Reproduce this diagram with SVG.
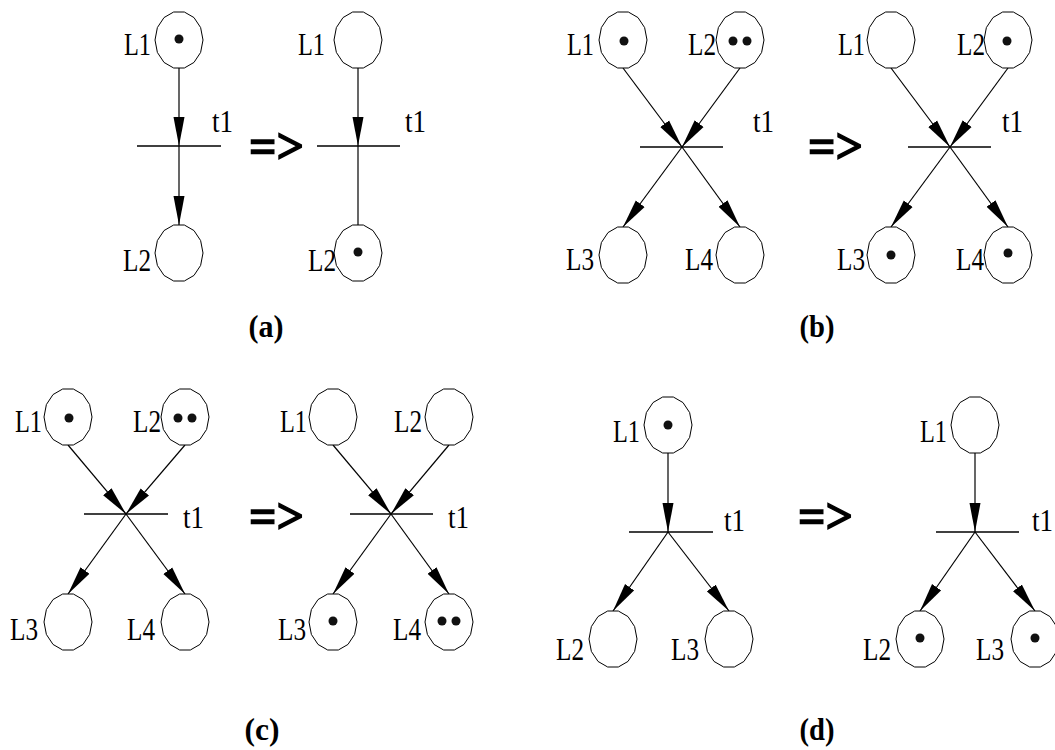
<svg xmlns="http://www.w3.org/2000/svg" xmlns:xlink="http://www.w3.org/1999/xlink" width="1055" height="750" viewBox="0 0 1055 750">
<style>
.place{fill:#fff;stroke:#000;stroke-width:1}
.arc{fill:none;stroke:#000;stroke-width:1.2}
.arr{marker-end:url(#ah)}
.bar{stroke:#000;stroke-width:1.3}
.tok{fill:#111}
.lbl{font-family:"Liberation Serif","Times New Roman",serif;font-size:32px;fill:#000}
.end{text-anchor:end}
.cap{font-family:"Liberation Serif","Times New Roman",serif;font-size:32px;font-weight:bold;text-anchor:middle;fill:#000}
.imp{font-family:"Liberation Serif","Times New Roman",serif;font-size:50px;font-weight:bold;fill:#000;stroke:#000;stroke-width:1.4}
</style>
<defs>
<polygon id="pl" class="place" points="5.34,-28 14.96,-22.45 21.62,-12.46 24,0 21.62,12.46 14.96,22.45 5.34,28 -5.34,28 -14.96,22.45 -21.62,12.46 -24,0 -21.62,-12.46 -14.96,-22.45 -5.34,-28"/>
<marker id="ah" markerUnits="userSpaceOnUse" markerWidth="30" markerHeight="12" viewBox="0 0 30 12" refX="29" refY="6" orient="auto">
<path d="M0,0.5 L29,6 L0,11.5 Z" fill="#000"/>
</marker>
</defs>
<rect width="1055" height="750" fill="#fff"/>

<g id="connectors">
<!-- (a) -->
<path class="arc arr" d="M179,68 L179,146"/>
<path class="arc arr" d="M179,146 L179,225"/>
<path class="arc arr" d="M358,68 L358,146"/>
<path class="arc" d="M358,146 L358,225"/>
<!-- (b) -->
<path class="arc arr" d="M623,68 L682,147"/>
<path class="arc arr" d="M740,68 L682,147"/>
<path class="arc arr" d="M682,147 L623,227"/>
<path class="arc arr" d="M682,147 L740,227"/>
<path class="arc arr" d="M891,68 L950,147"/>
<path class="arc arr" d="M1008,68 L950,147"/>
<path class="arc arr" d="M950,147 L891,227"/>
<path class="arc arr" d="M950,147 L1008,227"/>
<!-- (c) -->
<path class="arc arr" d="M68,445 L126,514"/>
<path class="arc arr" d="M185,445 L126,514"/>
<path class="arc arr" d="M126,514 L68,594"/>
<path class="arc arr" d="M126,514 L185,594"/>
<path class="arc arr" d="M333,445 L391,514"/>
<path class="arc arr" d="M449,445 L391,514"/>
<path class="arc arr" d="M391,514 L333,594"/>
<path class="arc arr" d="M391,514 L449,594"/>
<!-- (d) -->
<path class="arc arr" d="M668,453 L668,532"/>
<path class="arc arr" d="M668,532 L613,611"/>
<path class="arc arr" d="M668,532 L729,611"/>
<path class="arc arr" d="M975,453 L975,532"/>
<path class="arc arr" d="M975,532 L920,611"/>
<path class="arc arr" d="M975,532 L1035,611"/>
</g>

<!-- Panel (a) -->
<g id="a-before-L1"><use xlink:href="#pl" x="179" y="40"/><circle class="tok" cx="179" cy="39" r="4.5"/><text class="lbl end" x="151" y="55" textLength="27" lengthAdjust="spacingAndGlyphs">L1</text></g>
<g id="a-before-t1"><line class="bar" x1="137" y1="146" x2="221" y2="146"/><text class="lbl" x="212" y="132" textLength="21" lengthAdjust="spacingAndGlyphs">t1</text></g>
<g id="a-before-L2"><use xlink:href="#pl" x="179" y="253"/><text class="lbl end" x="151" y="271" textLength="28" lengthAdjust="spacingAndGlyphs">L2</text></g>
<g id="a-implies"><text class="imp" x="249" y="163" textLength="55" lengthAdjust="spacingAndGlyphs">=&gt;</text></g>
<g id="a-after-L1"><use xlink:href="#pl" x="358" y="40"/><text class="lbl end" x="325" y="55" textLength="27" lengthAdjust="spacingAndGlyphs">L1</text></g>
<g id="a-after-t1"><line class="bar" x1="317" y1="146" x2="400" y2="146"/><text class="lbl" x="405" y="132" textLength="21" lengthAdjust="spacingAndGlyphs">t1</text></g>
<g id="a-after-L2"><use xlink:href="#pl" x="358" y="253"/><circle class="tok" cx="358" cy="252" r="4.5"/><text class="lbl end" x="336" y="271" textLength="28" lengthAdjust="spacingAndGlyphs">L2</text></g>
<g id="a-caption"><text class="cap" x="266" y="337" textLength="35" lengthAdjust="spacingAndGlyphs">(a)</text></g>

<!-- Panel (b) -->
<g id="b-before-L1"><use xlink:href="#pl" x="623" y="40"/><circle class="tok" cx="624" cy="41" r="4.5"/><text class="lbl end" x="594" y="55" textLength="27" lengthAdjust="spacingAndGlyphs">L1</text></g>
<g id="b-before-L2"><use xlink:href="#pl" x="740" y="40"/><circle class="tok" cx="733" cy="41" r="4.5"/><circle class="tok" cx="747" cy="41" r="4.5"/><text class="lbl end" x="716" y="55" textLength="28" lengthAdjust="spacingAndGlyphs">L2</text></g>
<g id="b-before-t1"><line class="bar" x1="640" y1="147" x2="723" y2="147"/><text class="lbl" x="753" y="132" textLength="21" lengthAdjust="spacingAndGlyphs">t1</text></g>
<g id="b-before-L3"><use xlink:href="#pl" x="623" y="255"/><text class="lbl end" x="594" y="270" textLength="28" lengthAdjust="spacingAndGlyphs">L3</text></g>
<g id="b-before-L4"><use xlink:href="#pl" x="740" y="255"/><text class="lbl end" x="713" y="270" textLength="28" lengthAdjust="spacingAndGlyphs">L4</text></g>
<g id="b-implies"><text class="imp" x="808" y="163" textLength="55" lengthAdjust="spacingAndGlyphs">=&gt;</text></g>
<g id="b-after-L1"><use xlink:href="#pl" x="891" y="40"/><text class="lbl end" x="865" y="55" textLength="27" lengthAdjust="spacingAndGlyphs">L1</text></g>
<g id="b-after-L2"><use xlink:href="#pl" x="1008" y="40"/><circle class="tok" cx="1007" cy="41" r="4.5"/><text class="lbl end" x="985" y="55" textLength="28" lengthAdjust="spacingAndGlyphs">L2</text></g>
<g id="b-after-t1"><line class="bar" x1="908" y1="147" x2="991" y2="147"/><text class="lbl" x="1002" y="132" textLength="21" lengthAdjust="spacingAndGlyphs">t1</text></g>
<g id="b-after-L3"><use xlink:href="#pl" x="891" y="255"/><circle class="tok" cx="891" cy="255" r="4.5"/><text class="lbl end" x="865" y="270" textLength="28" lengthAdjust="spacingAndGlyphs">L3</text></g>
<g id="b-after-L4"><use xlink:href="#pl" x="1008" y="255"/><circle class="tok" cx="1008" cy="253" r="4.5"/><text class="lbl end" x="984" y="270" textLength="28" lengthAdjust="spacingAndGlyphs">L4</text></g>
<g id="b-caption"><text class="cap" x="817" y="337" textLength="35" lengthAdjust="spacingAndGlyphs">(b)</text></g>

<!-- Panel (c) -->
<g id="c-before-L1"><use xlink:href="#pl" x="68" y="417"/><circle class="tok" cx="69" cy="418" r="4.5"/><text class="lbl end" x="42" y="432" textLength="27" lengthAdjust="spacingAndGlyphs">L1</text></g>
<g id="c-before-L2"><use xlink:href="#pl" x="185" y="417"/><circle class="tok" cx="178" cy="418" r="4.5"/><circle class="tok" cx="192" cy="418" r="4.5"/><text class="lbl end" x="161" y="432" textLength="28" lengthAdjust="spacingAndGlyphs">L2</text></g>
<g id="c-before-t1"><line class="bar" x1="84" y1="514" x2="168" y2="514"/><text class="lbl" x="183" y="528" textLength="21" lengthAdjust="spacingAndGlyphs">t1</text></g>
<g id="c-before-L3"><use xlink:href="#pl" x="68" y="622"/><text class="lbl end" x="38" y="640" textLength="28" lengthAdjust="spacingAndGlyphs">L3</text></g>
<g id="c-before-L4"><use xlink:href="#pl" x="185" y="622"/><text class="lbl end" x="155" y="640" textLength="28" lengthAdjust="spacingAndGlyphs">L4</text></g>
<g id="c-implies"><text class="imp" x="249" y="533" textLength="55" lengthAdjust="spacingAndGlyphs">=&gt;</text></g>
<g id="c-after-L1"><use xlink:href="#pl" x="333" y="417"/><text class="lbl end" x="307" y="432" textLength="27" lengthAdjust="spacingAndGlyphs">L1</text></g>
<g id="c-after-L2"><use xlink:href="#pl" x="449" y="417"/><text class="lbl end" x="422" y="432" textLength="28" lengthAdjust="spacingAndGlyphs">L2</text></g>
<g id="c-after-t1"><line class="bar" x1="350" y1="514" x2="433" y2="514"/><text class="lbl" x="448" y="528" textLength="21" lengthAdjust="spacingAndGlyphs">t1</text></g>
<g id="c-after-L3"><use xlink:href="#pl" x="333" y="622"/><circle class="tok" cx="333" cy="621" r="4.5"/><text class="lbl end" x="306" y="640" textLength="28" lengthAdjust="spacingAndGlyphs">L3</text></g>
<g id="c-after-L4"><use xlink:href="#pl" x="449" y="622"/><circle class="tok" cx="442" cy="621" r="4.5"/><circle class="tok" cx="456" cy="621" r="4.5"/><text class="lbl end" x="421" y="640" textLength="28" lengthAdjust="spacingAndGlyphs">L4</text></g>
<g id="c-caption"><text class="cap" x="262" y="740" textLength="35" lengthAdjust="spacingAndGlyphs">(c)</text></g>

<!-- Panel (d) -->
<g id="d-before-L1"><use xlink:href="#pl" x="668" y="425"/><circle class="tok" cx="668" cy="425" r="4.5"/><text class="lbl end" x="640" y="442" textLength="27" lengthAdjust="spacingAndGlyphs">L1</text></g>
<g id="d-before-t1"><line class="bar" x1="629" y1="532" x2="713" y2="532"/><text class="lbl" x="724" y="531" textLength="21" lengthAdjust="spacingAndGlyphs">t1</text></g>
<g id="d-before-L2"><use xlink:href="#pl" x="613" y="639"/><text class="lbl end" x="584" y="660" textLength="28" lengthAdjust="spacingAndGlyphs">L2</text></g>
<g id="d-before-L3"><use xlink:href="#pl" x="729" y="639"/><text class="lbl end" x="699" y="660" textLength="28" lengthAdjust="spacingAndGlyphs">L3</text></g>
<g id="d-implies"><text class="imp" x="798" y="533" textLength="55" lengthAdjust="spacingAndGlyphs">=&gt;</text></g>
<g id="d-after-L1"><use xlink:href="#pl" x="975" y="425"/><text class="lbl end" x="947" y="442" textLength="27" lengthAdjust="spacingAndGlyphs">L1</text></g>
<g id="d-after-t1"><line class="bar" x1="936" y1="532" x2="1019" y2="532"/><text class="lbl" x="1032" y="531" textLength="21" lengthAdjust="spacingAndGlyphs">t1</text></g>
<g id="d-after-L2"><use xlink:href="#pl" x="920" y="639"/><circle class="tok" cx="920" cy="638" r="4.5"/><text class="lbl end" x="891" y="660" textLength="28" lengthAdjust="spacingAndGlyphs">L2</text></g>
<g id="d-after-L3"><use xlink:href="#pl" x="1035" y="639"/><circle class="tok" cx="1035" cy="638" r="4.5"/><text class="lbl end" x="1004" y="660" textLength="28" lengthAdjust="spacingAndGlyphs">L3</text></g>
<g id="d-caption"><text class="cap" x="817" y="740" textLength="35" lengthAdjust="spacingAndGlyphs">(d)</text></g>
</svg>
